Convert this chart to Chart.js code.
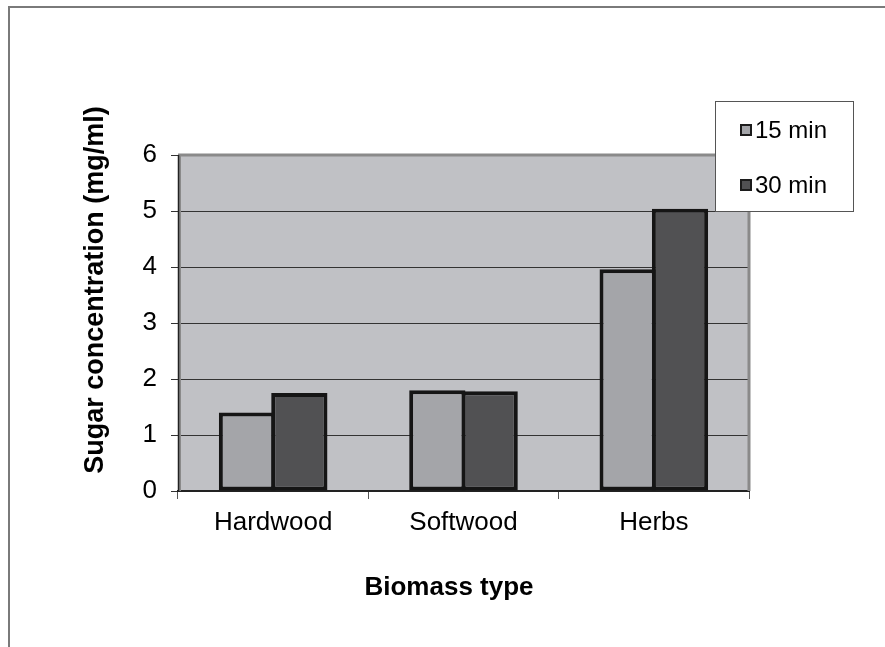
<!DOCTYPE html>
<html>
<head>
<meta charset="utf-8">
<script src="https://cdn.jsdelivr.net/npm/chart.js@4"></script>
<style>
html,body{margin:0;padding:0;background:#fff;}
canvas{display:block;}
</style>
</head>
<body>
<canvas id="c" width="885" height="647"></canvas>
<script>
const categories = ["Hardwood", "Softwood", "Herbs"];
const seriesNames = ["15 min", "30 min"];
const values15 = [1.40, 1.80, 3.96];
const values30 = [1.75, 1.78, 5.04];
const yTicks = [0, 1, 2, 3, 4, 5, 6];
const yTitle = "Sugar concentration (mg/ml)";
const xTitle = "Biomass type";

const colors = ["#a4a5a9", "#515153"];
const FONT = "'Liberation Sans', Arial, sans-serif";

const decor = {
  id: 'decor',
  beforeDraw(chart) {
    const ctx = chart.ctx, a = chart.chartArea;
    ctx.save();
    ctx.fillStyle = '#fff';
    ctx.fillRect(0, 0, chart.width, chart.height);
    ctx.strokeStyle = '#7a7a7a';
    ctx.lineWidth = 2;
    ctx.beginPath();
    ctx.moveTo(9, chart.height);
    ctx.lineTo(9, 7);
    ctx.lineTo(chart.width, 7);
    ctx.stroke();
    ctx.fillStyle = '#c0c1c5';
    ctx.fillRect(a.left, a.top, a.right - a.left, a.bottom - a.top);
    ctx.restore();
  },
  afterDraw(chart) {
    const ctx = chart.ctx, a = chart.chartArea;
    ctx.save();
    ctx.strokeStyle = '#8a8a8a';
    ctx.lineWidth = 3;
    ctx.beginPath();
    ctx.moveTo(a.left, a.top);
    ctx.lineTo(a.right, a.top);
    ctx.lineTo(a.right, a.bottom);
    ctx.stroke();
    ctx.strokeStyle = '#8a8a8a';
    ctx.lineWidth = 2;
    ctx.beginPath();
    ctx.moveTo(a.left + 2, a.top);
    ctx.lineTo(a.left + 2, a.bottom);
    ctx.stroke();
    ctx.strokeStyle = '#222';
    ctx.lineWidth = 1.5;
    ctx.beginPath();
    ctx.moveTo(a.left + 0.5, a.top);
    ctx.lineTo(a.left + 0.5, a.bottom);
    ctx.stroke();

    ctx.fillStyle = '#000';
    ctx.textAlign = 'center';
    ctx.textBaseline = 'middle';
    ctx.font = 'bold 27px ' + FONT;
    ctx.save();
    ctx.translate(96, 290);
    ctx.rotate(-Math.PI / 2);
    ctx.fillText(yTitle, 0, 0);
    ctx.restore();
    ctx.font = 'bold 26px ' + FONT;
    ctx.fillText(xTitle, 449, 588);

    const lx = 715, ly = 101, lw = 138, lh = 110;
    ctx.fillStyle = '#fff';
    ctx.fillRect(lx, ly, lw, lh);
    ctx.strokeStyle = '#555';
    ctx.lineWidth = 1;
    ctx.strokeRect(lx + 0.5, ly + 0.5, lw, lh);
    const rowsY = [130, 185];
    ctx.font = '24px ' + FONT;
    ctx.textAlign = 'left';
    ctx.textBaseline = 'middle';
    seriesNames.forEach((name, i) => {
      const y = rowsY[i];
      ctx.fillStyle = colors[i];
      ctx.fillRect(740, y - 6, 12, 12);
      ctx.strokeStyle = '#1c1c1c';
      ctx.lineWidth = 2;
      ctx.strokeRect(741, y - 5, 10, 10);
      ctx.fillStyle = '#000';
      ctx.fillText(name, 755, y + 1);
    });
    ctx.restore();
  }
};

new Chart(document.getElementById('c'), {
  type: 'bar',
  data: {
    labels: categories,
    datasets: [
      { label: seriesNames[0], data: values15, backgroundColor: colors[0], borderColor: '#151515', borderWidth: 4, borderSkipped: false },
      { label: seriesNames[1], data: values30, backgroundColor: colors[1], borderColor: '#151515', borderWidth: 4, borderSkipped: false }
    ]
  },
  options: {
    responsive: false,
    devicePixelRatio: 1,
    animation: false,
    layout: { padding: { left: 0, top: 155, right: 136, bottom: 0 } },
    datasets: { bar: { categoryPercentage: 0.55, barPercentage: 1.075 } },
    plugins: { legend: { display: false }, tooltip: { enabled: false }, title: { display: false } },
    scales: {
      x: {
        afterFit(s) { s.height = 156; },
        grid: { offset: true, drawOnChartArea: false, drawTicks: true, tickLength: 8, color: '#555', lineWidth: 1 },
        border: { display: true, color: '#222', width: 2 },
        ticks: { color: '#000', font: { family: FONT, size: 26 }, padding: 8, maxRotation: 0 }
      },
      y: {
        min: 0, max: 6,
        afterFit(s) { s.width = 178; },
        afterBuildTicks(s) { s.ticks = yTicks.map(v => ({ value: v })); },
        grid: { color: '#333', lineWidth: 1, drawTicks: true, tickLength: 7, tickColor: '#333' },
        border: { display: true, color: '#222', width: 1 },
        ticks: { color: '#000', font: { family: FONT, size: 26 }, padding: 14 }
      }
    }
  },
  plugins: [decor]
});
</script>
</body>
</html>
